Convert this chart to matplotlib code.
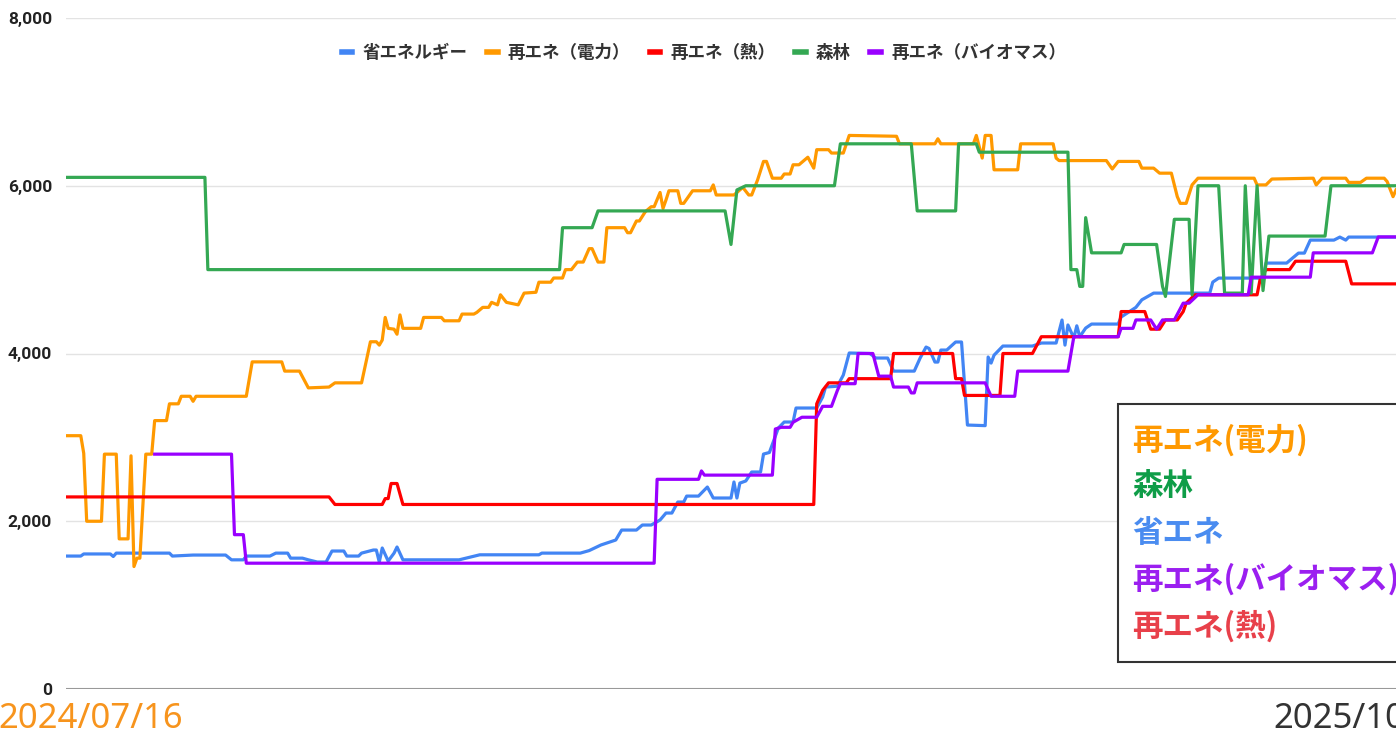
import matplotlib.pyplot as plt
from matplotlib.lines import Line2D
from matplotlib.patches import Rectangle

plt.rcParams['font.family'] = ['Noto Sans CJK JP', 'DejaVu Sans']

# days counted from 2024/07/16
start_label = '2024/07/16'
end_label = '2025/10/09'
n_days = 450

shoene = [(0, 1585), (5, 1585), (6, 1610), (15, 1610), (16, 1580), (17, 1620), (35, 1620), (36, 1585),
          (43, 1597), (54, 1597), (56, 1540), (60, 1540), (61, 1585), (69, 1585), (71, 1620), (75, 1620),
          (76, 1560), (80, 1560), (82, 1540), (85, 1514), (88, 1514), (90, 1645), (94, 1645), (95, 1585),
          (99, 1585), (100, 1620), (104, 1657), (105, 1657), (106, 1514), (107, 1681), (109, 1525),
          (111, 1620), (112, 1693), (114, 1540), (133, 1540), (140, 1600), (160, 1600), (161, 1620),
          (174, 1620), (177, 1650), (181, 1717), (186, 1776), (188, 1895), (193, 1895), (195, 1955),
          (198, 1955), (201, 2015), (203, 2098), (205, 2098), (207, 2229), (209, 2229), (210, 2300),
          (214, 2300), (217, 2408), (219, 2277), (225, 2277), (226, 2468), (227, 2277), (228, 2455),
          (230, 2480), (232, 2587), (235, 2587), (236, 2801), (238, 2820), (241, 3111), (243, 3183),
          (246, 3183), (247, 3350), (254, 3350), (256, 3481), (257, 3600), (261, 3610), (263, 3743),
          (265, 4006), (272, 4000), (274, 3946), (278, 3946), (280, 3790), (287, 3790), (289, 3946),
          (291, 4077), (292, 4060), (294, 3898), (295, 3898), (296, 4041), (298, 4041), (301, 4137),
          (303, 4137), (305, 3147), (311, 3140), (312, 3958), (313, 3886), (314, 3980), (317, 4089),
          (327, 4089), (330, 4125), (335, 4125), (337, 4399), (338, 4100), (339, 4340), (341, 4184),
          (342, 4330), (343, 4200), (345, 4303), (347, 4351), (356, 4351), (357, 4435), (362, 4550),
          (364, 4640), (368, 4720), (387, 4720), (388, 4851), (390, 4899), (405, 4899), (406, 5078),
          (413, 5078), (415, 5138), (417, 5197), (419, 5197), (421, 5352), (429, 5352), (431, 5388),
          (433, 5352), (434, 5388), (450, 5388)]

denryoku = [(0, 3020), (5, 3020), (6, 2810), (7, 2000), (12, 2000), (13, 2800), (17, 2800), (18, 1790),
            (21, 1790), (22, 2780), (23, 1460), (24, 1560), (25, 1560), (27, 2800), (29, 2800), (30, 3200),
            (34, 3200), (35, 3400), (38, 3400), (39, 3490), (42, 3490), (43, 3430), (44, 3490), (61, 3490),
            (63, 3900), (73, 3900), (74, 3790), (79, 3790), (82, 3590), (89, 3600), (91, 3650), (100, 3650),
            (103, 4140), (105, 4140), (106, 4100), (107, 4160), (108, 4430), (109, 4300), (111, 4290),
            (112, 4230), (113, 4460), (114, 4300), (120, 4300), (121, 4430), (127, 4430), (128, 4390),
            (133, 4390), (134, 4470), (138, 4470), (139, 4490), (141, 4550), (143, 4550), (144, 4610),
            (146, 4580), (147, 4700), (149, 4610), (153, 4580), (155, 4720), (159, 4730), (160, 4850),
            (164, 4850), (165, 4900), (168, 4900), (169, 5000), (171, 5000), (173, 5090), (175, 5090),
            (177, 5250), (178, 5250), (180, 5090), (182, 5090), (183, 5500), (189, 5500), (190, 5440),
            (191, 5440), (193, 5580), (194, 5580), (196, 5690), (198, 5750), (199, 5750), (201, 5920),
            (202, 5730), (203, 5830), (204, 5940), (207, 5940), (208, 5790), (209, 5790), (212, 5940),
            (218, 5940), (219, 6010), (220, 5890), (226, 5890), (229, 5980), (231, 5890), (232, 5890),
            (234, 6070), (236, 6290), (237, 6290), (239, 6090), (242, 6090), (243, 6140), (245, 6140),
            (246, 6250), (248, 6250), (251, 6340), (253, 6210), (254, 6430), (258, 6430), (259, 6390),
            (263, 6390), (265, 6600), (281, 6590), (282, 6500), (294, 6500), (295, 6560), (296, 6500),
            (307, 6500), (308, 6600), (310, 6330), (311, 6600), (313, 6600), (314, 6190), (322, 6190),
            (323, 6500), (334, 6500), (335, 6330), (336, 6300), (352, 6300), (354, 6200), (356, 6290),
            (363, 6290), (364, 6210), (368, 6210), (370, 6150), (374, 6150), (376, 5870), (377, 5790),
            (379, 5790), (381, 6010), (383, 6090), (402, 6090), (403, 6010), (406, 6010), (408, 6080),
            (422, 6090), (423, 6010), (425, 6090), (433, 6090), (434, 6040), (438, 6040), (440, 6090),
            (446, 6090), (447, 6050), (449, 5870), (450, 5950)]

netsu = [(0, 2290), (89, 2290), (91, 2200), (107, 2200), (108, 2270), (109, 2270), (110, 2450), (112, 2450),
         (114, 2200), (253, 2200), (254, 3400), (256, 3560), (258, 3650), (264, 3650), (265, 3700),
         (279, 3700), (280, 4000), (300, 4000), (301, 3700), (303, 3700), (304, 3500), (316, 3500),
         (317, 4000), (327, 4000), (330, 4200), (356, 4200), (357, 4500), (365, 4500), (367, 4290),
         (370, 4290), (372, 4400), (376, 4400), (378, 4500), (379, 4600), (382, 4700), (403, 4700),
         (404, 4880), (406, 5000), (414, 5000), (416, 5100), (433, 5100), (435, 4830), (450, 4830)]

shinrin = [(0, 6100), (47, 6100), (48, 5000), (167, 5000), (168, 5500), (178, 5500), (180, 5700), (223, 5700),
           (225, 5300), (227, 5950), (230, 6000), (260, 6000), (262, 6500), (286, 6500), (288, 5700),
           (301, 5700), (302, 6500), (308, 6500), (309, 6400), (339, 6400), (340, 5000), (342, 5000),
           (343, 4800), (344, 4800), (345, 5620), (347, 5200), (357, 5200), (358, 5300), (369, 5300),
           (371, 4800), (372, 4680), (375, 5600), (380, 5600), (381, 4700), (383, 6000), (390, 6000),
           (392, 4720), (398, 4720), (399, 6000), (401, 4720), (403, 6000), (405, 4750), (407, 5400),
           (426, 5400), (428, 6000), (450, 6000)]

biomass = [(30, 2800), (56, 2800), (57, 1840), (60, 1840), (61, 1500), (199, 1500), (200, 2500), (214, 2500),
           (215, 2600), (216, 2550), (239, 2550), (240, 3100), (242, 3120), (245, 3120), (246, 3180),
           (249, 3240), (254, 3240), (256, 3370), (259, 3370), (261, 3560), (262, 3640), (267, 3640),
           (268, 4000), (273, 4000), (275, 3730), (279, 3730), (280, 3600), (285, 3600), (286, 3530),
           (287, 3530), (288, 3650), (311, 3650), (313, 3490), (321, 3490), (322, 3790), (339, 3790),
           (341, 4200), (356, 4200), (357, 4300), (361, 4300), (362, 4400), (367, 4400), (369, 4290),
           (371, 4400), (375, 4400), (378, 4600), (380, 4600), (383, 4700), (400, 4700), (401, 4910),
           (421, 4910), (422, 5200), (442, 5200), (444, 5390), (450, 5390)]

series = [
    ('省エネルギー', shoene, '#4285F4'),
    ('再エネ（電力）', denryoku, '#FF9900'),
    ('再エネ（熱）', netsu, '#FF0000'),
    ('森林', shinrin, '#34A853'),
    ('再エネ（バイオマス）', biomass, '#9900FF'),
]

box_labels = ['再エネ(電力)', '森林', '省エネ', '再エネ(バイオマス)', '再エネ(熱)']
box_colors = ['#FF9900', '#0F9D48', '#4A8CF0', '#9B1FF0', '#E8404A']

W, H = 1396, 735
fig = plt.figure(figsize=(W / 100, H / 100), dpi=100)
ax = fig.add_axes([66 / W, (H - 689) / H, (W - 66) / W, (689 - 18) / H])

for name, pts, col in series:
    xs = [p[0] for p in pts]
    ys = [p[1] for p in pts]
    ax.plot(xs, ys, color=col, lw=2.3, solid_joinstyle='round', label=name, zorder=3)

ax.set_xlim(0, n_days)
ax.set_ylim(0, 8000)
ax.set_yticks([0, 2000, 4000, 6000, 8000])
ax.set_yticklabels(['0', '2,000', '4,000', '6,000', '8,000'])
ax.set_xticks([])
for lab in ax.get_yticklabels():
    lab.set_fontweight('bold')
    lab.set_fontsize(12.5)
    lab.set_color('#222222')
    lab.set_family(['Roboto', 'DejaVu Sans'])
ax.tick_params(axis='y', length=0, pad=10)
for s in ax.spines.values():
    s.set_visible(False)
ax.grid(axis='y', color='#e3e3e3', lw=1)
ax.set_axisbelow(True)
ax.axhline(0, color='#999999', lw=1.5, zorder=2)

handles = [Line2D([], [], color=c, lw=4) for _, _, c in series]
fig.legend(handles, [s[0] for s in series], loc='center', bbox_to_anchor=(704 / W, (H - 53) / H),
           ncol=5, frameon=False, handlelength=0.6, handletextpad=0.6, columnspacing=1.1,
           prop={'size': 12.6, 'weight': 'bold'}, labelcolor='#333333')

# note box on the right
fig.patches.append(Rectangle((1118 / W, (H - 662) / H), 300 / W, 258 / H, transform=fig.transFigure,
                             facecolor='white', edgecolor='#333333', lw=1.5, zorder=5))
for i, (t, c) in enumerate(zip(box_labels, box_colors)):
    fig.text(1132 / W, (H - 440 - i * 46.5) / H, t, color=c, fontsize=22, fontweight='bold',
             va='center', ha='left', zorder=6)

fig.text(-2 / W, (H - 719) / H, start_label, color='#F7941D', fontsize=25, fontweight='medium',
         family=['Noto Sans', 'DejaVu Sans'], va='center', ha='left')
fig.text(1273 / W, (H - 719) / H, end_label, color='#333333', fontsize=25, fontweight='medium',
         family=['Noto Sans', 'DejaVu Sans'], va='center', ha='left')

fig.savefig('out.png', dpi=100)
